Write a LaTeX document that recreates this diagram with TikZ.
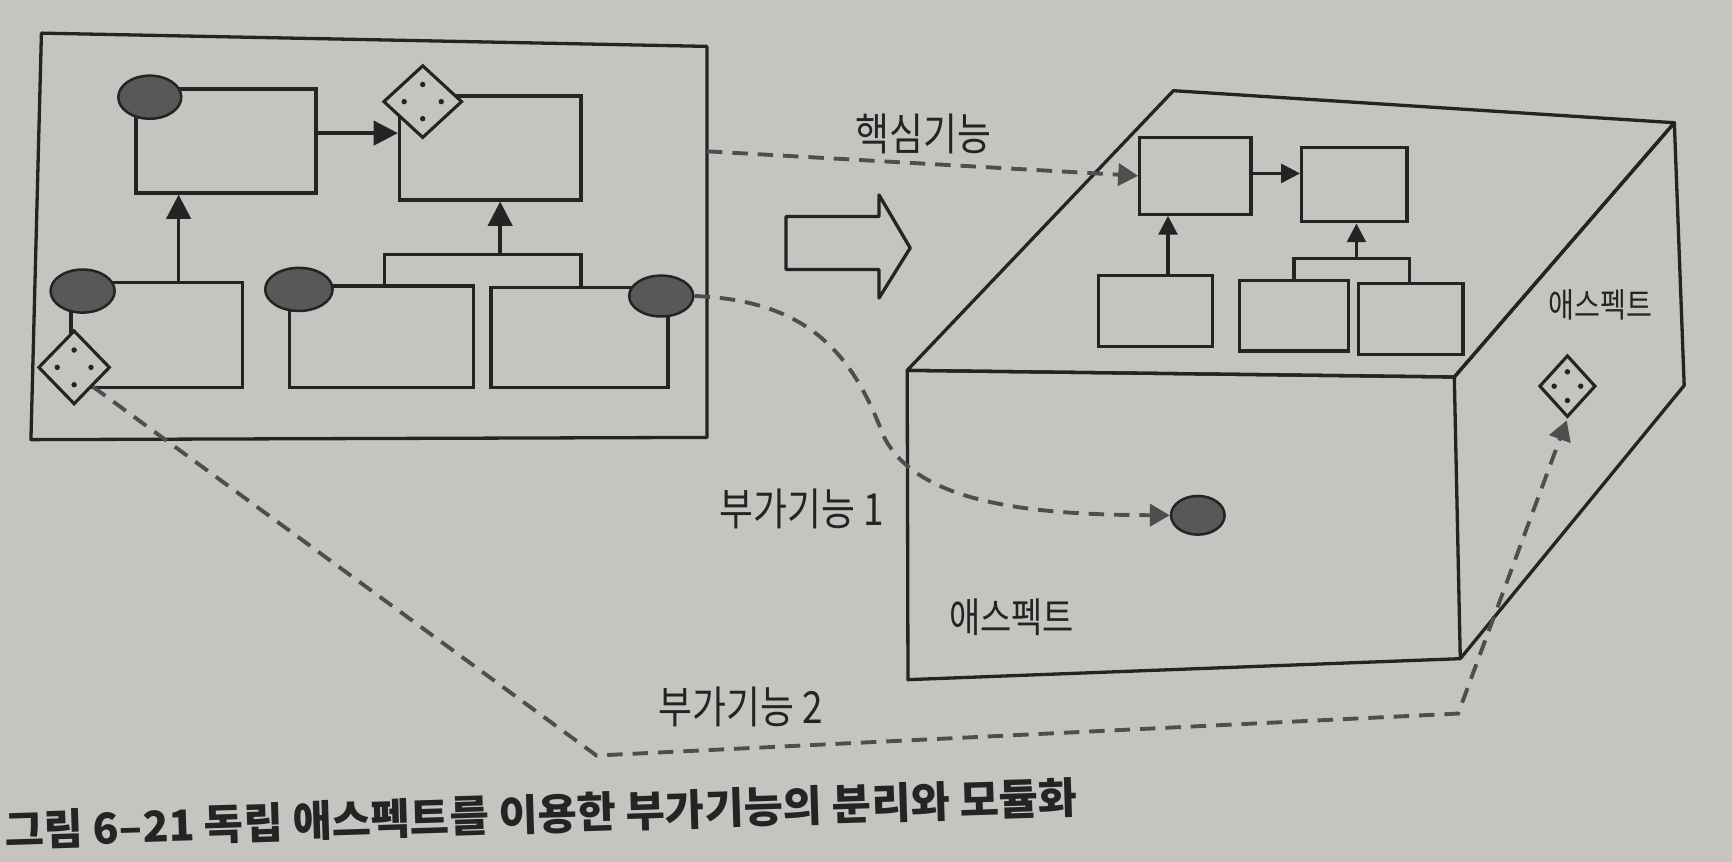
\documentclass[tikz,border=0pt]{standalone}
\usepackage{fontspec}
\usepackage{graphicx}
\newfontfamily\kr{Noto Sans CJK KR}
\usetikzlibrary{arrows.meta,fit,shapes.geometric}
\definecolor{paper}{RGB}{198,196,192}
\definecolor{ink}{RGB}{36,36,36}
\definecolor{dashc}{RGB}{78,78,78}
\definecolor{blob}{RGB}{88,88,88}
\tikzset{
  box/.style={draw=ink, line width=1.7pt, inner sep=0pt},
  blobe/.style={ellipse, draw=ink, line width=1.3pt, fill=blob, inner sep=0pt},
  dia/.style={diamond, draw=ink, line width=1.6pt, fill=paper, inner sep=0pt},
  face/.style={draw=ink, line width=1.7pt, line join=round},
  arr/.style={draw=ink, line width=1.8pt, -{Triangle[length=0.44cm,width=0.44cm]}},
  sarr/.style={draw=ink, line width=1.6pt, -{Triangle[length=0.34cm,width=0.34cm]}},
  dsh/.style={draw=dashc, line width=2pt, dash pattern=on 0.28cm off 0.18cm, -{Triangle[length=0.36cm,width=0.4cm]}},
  lbl/.style={text=ink, inner sep=0pt},
}
\newcommand\fourdots[3]{\foreach \dx/\dy in {0/-#3,0/#3,-#2/0,#2/0} \fill[ink] (#1.center) ++(\dx,\dy) circle (1.4pt);}
\begin{document}
\begin{tikzpicture}[x=0.02cm, y=-0.02cm]
\fill[paper] (0,0) rectangle (1568,780);
\useasboundingbox (0,0) rectangle (1568,780);

% ---------- left frame ----------
\draw[face] (37.5,30) -- (640,42) -- (640,396) -- (28,398) -- cycle;

\node[box, fit={(123.2,80.7) (286,174.7)}] (A) {};
\node[box, fit={(361.7,87) (526,181)}] (B) {};
\node[box, fit={(64.4,256) (219.7,351)}] (C) {};
\node[box, fit={(262,259) (428.8,351)}] (D) {};
\node[box, fit={(444.5,260.5) (604.8,351)}] (E) {};

% arrows inside left frame
\coordinate (a1) at (286,120.5);
\draw[arr] (a1) -- (a1 -| B.west);
\coordinate (c1) at (161.7,256);
\draw[arr] (c1) -- (c1 |- A.south);
\coordinate (bl) at (348,230.4);
\coordinate (br) at (526,230.4);
\draw[box] (bl |- D.north) -- (bl) -- (br) -- (br |- E.north);
\coordinate (m1) at (452.8,230.4);
\draw[arr] (m1) -- (m1 |- B.south);

% ellipses and diamonds
\node[blobe, minimum width=1.14cm, minimum height=0.78cm] (eA) at (135.6,88) {};
\node[blobe, minimum width=1.16cm, minimum height=0.78cm] (eC) at (74.8,263.5) {};
\node[blobe, minimum width=1.22cm, minimum height=0.78cm] (eD) at (270.6,262) {};
\node[blobe, minimum width=1.16cm, minimum height=0.74cm] (eE) at (598.6,268) {};
\node[dia, minimum width=1.43cm, minimum height=1.32cm] (dB) at (382.7,92) {};
\fourdots{dB}{16.8}{15.5}
\node[dia, minimum width=1.30cm, minimum height=1.34cm] (dC) at (67.1,332.6) {};
\fourdots{dC}{15.3}{15.7}

% ---------- block arrow ----------
\draw[face] (711.6,196) -- (795.8,196) -- (795.8,176.5) -- (824,224.5)
  -- (795.8,269.8) -- (795.8,244) -- (711.6,244) -- cycle;

% ---------- 3D box ----------
\draw[face] (821.3,335.3) -- (1062.3,82.1) -- (1515.8,111.1) -- (1316.6,341.3) -- cycle;
\draw[face] (821.3,335.3) -- (1316.6,341.3) -- (1322,596.3) -- (822,615.3) -- cycle;
\draw[face] (1316.6,341.3) -- (1515.8,111.1) -- (1524.7,349) -- (1322,596.3);

\node[box, fit={(1031.8,124.4) (1132.6,193.9)}] (b1) {};
\node[box, fit={(1178.4,133.5) (1273.8,200.8)}] (b2) {};
\node[box, fit={(994.4,249.2) (1097.7,314)}] (b3) {};
\node[box, fit={(1122.3,253.7) (1220.7,317.7)}] (b4) {};
\node[box, fit={(1229.6,256.7) (1324.5,320.8)}] (b5) {};

\coordinate (t1) at (1132.6,157);
\draw[sarr] (t1) -- (t1 -| b2.west);
\coordinate (t3) at (1057.4,249.2);
\draw[sarr] (t3) -- (t3 |- b1.south);
\coordinate (tl) at (1171.5,234);
\coordinate (tr) at (1276,234);
\draw[box] (tl |- b4.north) -- (tl) -- (tr) -- (tr |- b5.north);
\coordinate (t2) at (1228,234);
\draw[sarr] (t2) -- (t2 |- b2.south);

\node[blobe, minimum width=0.97cm, minimum height=0.70cm] (eF) at (1084.4,466.5) {};
\node[dia, minimum width=1.02cm, minimum height=1.12cm] (dR) at (1419,349.6) {};
\fourdots{dR}{12}{13}

% ---------- dashed connectors ----------
\coordinate (k0) at (640,137);
\draw[dsh] (k0) -- (b1.west);
\coordinate (p1) at (800,395);
\draw[dsh] (eE.east) .. controls (740,272) and (775,330) .. (p1)
  .. controls (830,455) and (930,466) .. (eF.west);
\coordinate (q1) at (540,684);
\coordinate (q2) at (1320,646);
\draw[dsh, shorten >=1pt] (dC.south east) -- (q1) -- (q2) -- (dR.south);

% ---------- labels ----------
\node[lbl] (lk) at (836,121.5) {\kr\fontsize{19}{21}\selectfont\scalebox{1}[1.2]{핵심기능}};
\node[lbl] (l1) at (725.6,461) {\kr\fontsize{19}{21}\selectfont\scalebox{1}[1.2]{부가기능 1}};
\node[lbl] (l2) at (670.4,639.8) {\kr\fontsize{19}{21}\selectfont\scalebox{1}[1.2]{부가기능 2}};
\node[lbl] (la) at (915.9,559) {\kr\fontsize{17.5}{20}\selectfont\scalebox{1}[1.2]{애스펙트}};
\node[lbl] (lr) at (1449,276) {\kr\fontsize{14.5}{16}\selectfont\scalebox{1}[1.2]{애스펙트}};

\node[lbl, rotate=1.8] (cap) at (490,737) {\kr\bfseries\fontsize{22}{25}\selectfont 그림 6–21 독립 애스펙트를 이용한 부가기능의 분리와 모듈화};
\end{tikzpicture}
\end{document}
